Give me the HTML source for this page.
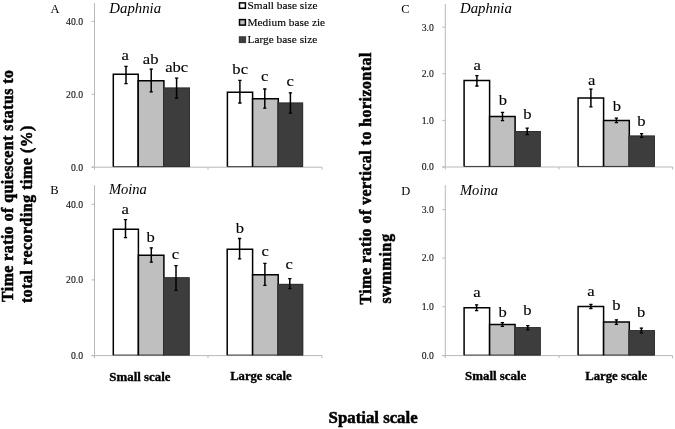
<!DOCTYPE html>
<html><head><meta charset="utf-8"><title>Figure</title>
<style>
html,body{margin:0;padding:0;background:#fff;}
body{width:675px;height:429px;overflow:hidden;}
svg{display:block;will-change:transform;font-family:"Liberation Serif",serif;}
</style></head><body>
<svg width="675" height="429" viewBox="0 0 675 429">
<rect width="675" height="429" fill="#fff"/>
<path d="M94.5 3V169.7" stroke="#b9b9b9" stroke-width="1" fill="none"/>
<path d="M91.5 167.2H322" stroke="#b9b9b9" stroke-width="1" fill="none"/>
<path d="M91.5 21.4H94.5" stroke="#b9b9b9" stroke-width="1"/>
<text x="83.0" y="24.7" font-size="9.7" text-anchor="end" fill="#111" stroke="#111" stroke-width="0.12">40.0</text>
<path d="M91.5 94.3H94.5" stroke="#b9b9b9" stroke-width="1"/>
<text x="83.0" y="97.6" font-size="9.7" text-anchor="end" fill="#111" stroke="#111" stroke-width="0.12">20.0</text>
<path d="M91.5 167.2H94.5" stroke="#b9b9b9" stroke-width="1"/>
<text x="83.0" y="170.5" font-size="9.7" text-anchor="end" fill="#111" stroke="#111" stroke-width="0.12">0.0</text>
<path d="M208 167.2V169.7" stroke="#b9b9b9" stroke-width="1"/>
<path d="M322 167.2V169.7" stroke="#b9b9b9" stroke-width="1"/>
<rect x="113.30" y="74.30" width="24.90" height="92.60" fill="#fff"/><path d="M113.30 166.80V74.30H138.20V166.80" fill="none" stroke="#000" stroke-width="1.5"/><path d="M113.30 166.65H138.20" fill="none" stroke="#222" stroke-width="0.9"/>
<rect x="138.20" y="80.70" width="25.70" height="86.20" fill="#bfbfbf"/><path d="M138.20 166.80V80.70H163.90V166.80" fill="none" stroke="#000" stroke-width="1.5"/><path d="M138.20 166.65H163.90" fill="none" stroke="#222" stroke-width="0.9"/>
<rect x="163.20" y="87.60" width="26.80" height="79.45" fill="#3d3d3d"/><rect x="163.60" y="88.00" width="26.00" height="78.65" fill="none" stroke="#2c2c2c" stroke-width="0.8"/>
<path d="M126.00 66.00V83.90" stroke="#000" stroke-width="1.5" fill="none"/><path d="M124.35 66.30H127.65M124.35 83.60H127.65" stroke="#000" stroke-width="1.3" fill="none"/>
<text transform="translate(125.30,59.50) scale(1.065,1)" font-size="15.6" text-anchor="middle" stroke="#000" stroke-width="0.12">a</text>
<path d="M151.20 68.80V92.20" stroke="#000" stroke-width="1.5" fill="none"/><path d="M149.55 69.10H152.85M149.55 91.90H152.85" stroke="#000" stroke-width="1.3" fill="none"/>
<text transform="translate(150.70,63.60) scale(1.065,1)" font-size="15.6" text-anchor="middle" stroke="#000" stroke-width="0.12">ab</text>
<path d="M176.60 77.80V98.30" stroke="#000" stroke-width="1.5" fill="none"/><path d="M174.95 78.10H178.25M174.95 98.00H178.25" stroke="#000" stroke-width="1.3" fill="none"/>
<text transform="translate(176.70,72.30) scale(1.065,1)" font-size="15.6" text-anchor="middle" stroke="#000" stroke-width="0.12">abc</text>
<rect x="227.40" y="92.20" width="25.20" height="74.70" fill="#fff"/><path d="M227.40 166.80V92.20H252.60V166.80" fill="none" stroke="#000" stroke-width="1.5"/><path d="M227.40 166.65H252.60" fill="none" stroke="#222" stroke-width="0.9"/>
<rect x="252.60" y="98.80" width="25.70" height="68.10" fill="#bfbfbf"/><path d="M252.60 166.80V98.80H278.30V166.80" fill="none" stroke="#000" stroke-width="1.5"/><path d="M252.60 166.65H278.30" fill="none" stroke="#222" stroke-width="0.9"/>
<rect x="277.60" y="102.60" width="25.50" height="64.45" fill="#3d3d3d"/><rect x="278.00" y="103.00" width="24.70" height="63.65" fill="none" stroke="#2c2c2c" stroke-width="0.8"/>
<path d="M239.90 80.00V103.30" stroke="#000" stroke-width="1.5" fill="none"/><path d="M238.25 80.30H241.55M238.25 103.00H241.55" stroke="#000" stroke-width="1.3" fill="none"/>
<text transform="translate(240.20,73.80) scale(1.065,1)" font-size="15.6" text-anchor="middle" stroke="#000" stroke-width="0.12">bc</text>
<path d="M264.80 88.70V108.50" stroke="#000" stroke-width="1.5" fill="none"/><path d="M263.15 89.00H266.45M263.15 108.20H266.45" stroke="#000" stroke-width="1.3" fill="none"/>
<text transform="translate(264.70,81.40) scale(1.065,1)" font-size="15.6" text-anchor="middle" stroke="#000" stroke-width="0.12">c</text>
<path d="M290.40 92.50V113.50" stroke="#000" stroke-width="1.5" fill="none"/><path d="M288.75 92.80H292.05M288.75 113.20H292.05" stroke="#000" stroke-width="1.3" fill="none"/>
<text transform="translate(290.30,86.00) scale(1.065,1)" font-size="15.6" text-anchor="middle" stroke="#000" stroke-width="0.12">c</text>
<path d="M94.5 185.2V358.1" stroke="#b9b9b9" stroke-width="1" fill="none"/>
<path d="M91.5 355.6H322" stroke="#b9b9b9" stroke-width="1" fill="none"/>
<path d="M91.5 204.3H94.5" stroke="#b9b9b9" stroke-width="1"/>
<text x="83.0" y="207.60000000000002" font-size="9.7" text-anchor="end" fill="#111" stroke="#111" stroke-width="0.12">40.0</text>
<path d="M91.5 279.9H94.5" stroke="#b9b9b9" stroke-width="1"/>
<text x="83.0" y="283.2" font-size="9.7" text-anchor="end" fill="#111" stroke="#111" stroke-width="0.12">20.0</text>
<path d="M91.5 355.6H94.5" stroke="#b9b9b9" stroke-width="1"/>
<text x="83.0" y="358.90000000000003" font-size="9.7" text-anchor="end" fill="#111" stroke="#111" stroke-width="0.12">0.0</text>
<path d="M208 355.6V358.1" stroke="#b9b9b9" stroke-width="1"/>
<path d="M322 355.6V358.1" stroke="#b9b9b9" stroke-width="1"/>
<rect x="113.30" y="229.20" width="25.10" height="126.10" fill="#fff"/><path d="M113.30 355.20V229.20H138.40V355.20" fill="none" stroke="#000" stroke-width="1.5"/><path d="M113.30 355.05H138.40" fill="none" stroke="#222" stroke-width="0.9"/>
<rect x="138.40" y="255.20" width="25.50" height="100.10" fill="#bfbfbf"/><path d="M138.40 355.20V255.20H163.90V355.20" fill="none" stroke="#000" stroke-width="1.5"/><path d="M138.40 355.05H163.90" fill="none" stroke="#222" stroke-width="0.9"/>
<rect x="163.20" y="277.30" width="26.40" height="78.15" fill="#3d3d3d"/><rect x="163.60" y="277.70" width="25.60" height="77.35" fill="none" stroke="#2c2c2c" stroke-width="0.8"/>
<path d="M125.50 219.40V238.00" stroke="#000" stroke-width="1.5" fill="none"/><path d="M123.85 219.70H127.15M123.85 237.70H127.15" stroke="#000" stroke-width="1.3" fill="none"/>
<text transform="translate(125.30,213.80) scale(1.065,1)" font-size="15.6" text-anchor="middle" stroke="#000" stroke-width="0.12">a</text>
<path d="M151.30 247.60V262.40" stroke="#000" stroke-width="1.5" fill="none"/><path d="M149.65 247.90H152.95M149.65 262.10H152.95" stroke="#000" stroke-width="1.3" fill="none"/>
<text transform="translate(150.70,242.40) scale(1.065,1)" font-size="15.6" text-anchor="middle" stroke="#000" stroke-width="0.12">b</text>
<path d="M176.00 265.30V290.70" stroke="#000" stroke-width="1.5" fill="none"/><path d="M174.35 265.60H177.65M174.35 290.40H177.65" stroke="#000" stroke-width="1.3" fill="none"/>
<text transform="translate(175.40,258.80) scale(1.065,1)" font-size="15.6" text-anchor="middle" stroke="#000" stroke-width="0.12">c</text>
<rect x="227.20" y="249.20" width="25.40" height="106.10" fill="#fff"/><path d="M227.20 355.20V249.20H252.60V355.20" fill="none" stroke="#000" stroke-width="1.5"/><path d="M227.20 355.05H252.60" fill="none" stroke="#222" stroke-width="0.9"/>
<rect x="252.60" y="274.70" width="25.60" height="80.60" fill="#bfbfbf"/><path d="M252.60 355.20V274.70H278.20V355.20" fill="none" stroke="#000" stroke-width="1.5"/><path d="M252.60 355.05H278.20" fill="none" stroke="#222" stroke-width="0.9"/>
<rect x="277.50" y="283.90" width="25.70" height="71.55" fill="#3d3d3d"/><rect x="277.90" y="284.30" width="24.90" height="70.75" fill="none" stroke="#2c2c2c" stroke-width="0.8"/>
<path d="M239.60 238.20V259.20" stroke="#000" stroke-width="1.5" fill="none"/><path d="M237.95 238.50H241.25M237.95 258.90H241.25" stroke="#000" stroke-width="1.3" fill="none"/>
<text transform="translate(240.00,233.00) scale(1.065,1)" font-size="15.6" text-anchor="middle" stroke="#000" stroke-width="0.12">b</text>
<path d="M264.90 263.10V285.70" stroke="#000" stroke-width="1.5" fill="none"/><path d="M263.25 263.40H266.55M263.25 285.40H266.55" stroke="#000" stroke-width="1.3" fill="none"/>
<text transform="translate(265.30,256.40) scale(1.065,1)" font-size="15.6" text-anchor="middle" stroke="#000" stroke-width="0.12">c</text>
<path d="M289.80 278.30V288.90" stroke="#000" stroke-width="1.5" fill="none"/><path d="M288.15 278.60H291.45M288.15 288.60H291.45" stroke="#000" stroke-width="1.3" fill="none"/>
<text transform="translate(289.10,269.00) scale(1.065,1)" font-size="15.6" text-anchor="middle" stroke="#000" stroke-width="0.12">c</text>
<path d="M445.3 3.8V169.5" stroke="#b9b9b9" stroke-width="1" fill="none"/>
<path d="M442.3 167H672.5" stroke="#b9b9b9" stroke-width="1" fill="none"/>
<path d="M442.3 27.2H445.3" stroke="#b9b9b9" stroke-width="1"/>
<text x="433.8" y="30.5" font-size="9.7" text-anchor="end" fill="#111" stroke="#111" stroke-width="0.12">3.0</text>
<path d="M442.3 73.8H445.3" stroke="#b9b9b9" stroke-width="1"/>
<text x="433.8" y="77.1" font-size="9.7" text-anchor="end" fill="#111" stroke="#111" stroke-width="0.12">2.0</text>
<path d="M442.3 120.4H445.3" stroke="#b9b9b9" stroke-width="1"/>
<text x="433.8" y="123.7" font-size="9.7" text-anchor="end" fill="#111" stroke="#111" stroke-width="0.12">1.0</text>
<path d="M442.3 167H445.3" stroke="#b9b9b9" stroke-width="1"/>
<text x="433.8" y="170.3" font-size="9.7" text-anchor="end" fill="#111" stroke="#111" stroke-width="0.12">0.0</text>
<path d="M559 167V169.5" stroke="#b9b9b9" stroke-width="1"/>
<path d="M672.5 167V169.5" stroke="#b9b9b9" stroke-width="1"/>
<rect x="464.10" y="80.60" width="25.50" height="86.10" fill="#fff"/><path d="M464.10 166.60V80.60H489.60V166.60" fill="none" stroke="#000" stroke-width="1.5"/><path d="M464.10 166.45H489.60" fill="none" stroke="#222" stroke-width="0.9"/>
<rect x="489.60" y="116.40" width="25.50" height="50.30" fill="#bfbfbf"/><path d="M489.60 166.60V116.40H515.10V166.60" fill="none" stroke="#000" stroke-width="1.5"/><path d="M489.60 166.45H515.10" fill="none" stroke="#222" stroke-width="0.9"/>
<rect x="514.50" y="131.00" width="26.20" height="35.85" fill="#3d3d3d"/><rect x="514.90" y="131.40" width="25.40" height="35.05" fill="none" stroke="#2c2c2c" stroke-width="0.8"/>
<path d="M476.90 75.40V86.30" stroke="#000" stroke-width="1.5" fill="none"/><path d="M475.25 75.70H478.55M475.25 86.00H478.55" stroke="#000" stroke-width="1.3" fill="none"/>
<text transform="translate(477.30,70.20) scale(1.065,1)" font-size="15.6" text-anchor="middle" stroke="#000" stroke-width="0.12">a</text>
<path d="M502.50 112.00V120.90" stroke="#000" stroke-width="1.5" fill="none"/><path d="M500.85 112.30H504.15M500.85 120.60H504.15" stroke="#000" stroke-width="1.3" fill="none"/>
<text transform="translate(503.00,104.50) scale(1.065,1)" font-size="15.6" text-anchor="middle" stroke="#000" stroke-width="0.12">b</text>
<path d="M527.20 127.90V135.00" stroke="#000" stroke-width="1.5" fill="none"/><path d="M525.55 128.20H528.85M525.55 134.70H528.85" stroke="#000" stroke-width="1.3" fill="none"/>
<text transform="translate(527.50,118.50) scale(1.065,1)" font-size="15.6" text-anchor="middle" stroke="#000" stroke-width="0.12">b</text>
<rect x="578.10" y="97.90" width="25.50" height="68.80" fill="#fff"/><path d="M578.10 166.60V97.90H603.60V166.60" fill="none" stroke="#000" stroke-width="1.5"/><path d="M578.10 166.45H603.60" fill="none" stroke="#222" stroke-width="0.9"/>
<rect x="603.60" y="120.40" width="25.70" height="46.30" fill="#bfbfbf"/><path d="M603.60 166.60V120.40H629.30V166.60" fill="none" stroke="#000" stroke-width="1.5"/><path d="M603.60 166.45H629.30" fill="none" stroke="#222" stroke-width="0.9"/>
<rect x="628.60" y="135.60" width="26.30" height="31.25" fill="#3d3d3d"/><rect x="629.00" y="136.00" width="25.50" height="30.45" fill="none" stroke="#2c2c2c" stroke-width="0.8"/>
<path d="M590.90 88.80V107.10" stroke="#000" stroke-width="1.5" fill="none"/><path d="M589.25 89.10H592.55M589.25 106.80H592.55" stroke="#000" stroke-width="1.3" fill="none"/>
<text transform="translate(591.80,84.90) scale(1.065,1)" font-size="15.6" text-anchor="middle" stroke="#000" stroke-width="0.12">a</text>
<path d="M616.40 117.90V123.00" stroke="#000" stroke-width="1.5" fill="none"/><path d="M614.75 118.20H618.05M614.75 122.70H618.05" stroke="#000" stroke-width="1.3" fill="none"/>
<text transform="translate(616.80,111.00) scale(1.065,1)" font-size="15.6" text-anchor="middle" stroke="#000" stroke-width="0.12">b</text>
<path d="M641.60 133.30V137.60" stroke="#000" stroke-width="1.5" fill="none"/><path d="M639.95 133.60H643.25M639.95 137.30H643.25" stroke="#000" stroke-width="1.3" fill="none"/>
<text transform="translate(641.30,125.50) scale(1.065,1)" font-size="15.6" text-anchor="middle" stroke="#000" stroke-width="0.12">b</text>
<path d="M445.3 185.1V358.1" stroke="#b9b9b9" stroke-width="1" fill="none"/>
<path d="M442.3 355.6H672.5" stroke="#b9b9b9" stroke-width="1" fill="none"/>
<path d="M442.3 209.7H445.3" stroke="#b9b9b9" stroke-width="1"/>
<text x="433.8" y="213.0" font-size="9.7" text-anchor="end" fill="#111" stroke="#111" stroke-width="0.12">3.0</text>
<path d="M442.3 258.1H445.3" stroke="#b9b9b9" stroke-width="1"/>
<text x="433.8" y="261.40000000000003" font-size="9.7" text-anchor="end" fill="#111" stroke="#111" stroke-width="0.12">2.0</text>
<path d="M442.3 306.8H445.3" stroke="#b9b9b9" stroke-width="1"/>
<text x="433.8" y="310.1" font-size="9.7" text-anchor="end" fill="#111" stroke="#111" stroke-width="0.12">1.0</text>
<path d="M442.3 355.6H445.3" stroke="#b9b9b9" stroke-width="1"/>
<text x="433.8" y="358.90000000000003" font-size="9.7" text-anchor="end" fill="#111" stroke="#111" stroke-width="0.12">0.0</text>
<path d="M559 355.6V358.1" stroke="#b9b9b9" stroke-width="1"/>
<path d="M672.5 355.6V358.1" stroke="#b9b9b9" stroke-width="1"/>
<rect x="464.10" y="307.80" width="25.50" height="47.50" fill="#fff"/><path d="M464.10 355.20V307.80H489.60V355.20" fill="none" stroke="#000" stroke-width="1.5"/><path d="M464.10 355.05H489.60" fill="none" stroke="#222" stroke-width="0.9"/>
<rect x="489.60" y="324.50" width="25.50" height="30.80" fill="#bfbfbf"/><path d="M489.60 355.20V324.50H515.10V355.20" fill="none" stroke="#000" stroke-width="1.5"/><path d="M489.60 355.05H515.10" fill="none" stroke="#222" stroke-width="0.9"/>
<rect x="514.50" y="327.20" width="26.20" height="28.25" fill="#3d3d3d"/><rect x="514.90" y="327.60" width="25.40" height="27.45" fill="none" stroke="#2c2c2c" stroke-width="0.8"/>
<path d="M476.60 304.60V310.90" stroke="#000" stroke-width="1.5" fill="none"/><path d="M474.95 304.90H478.25M474.95 310.60H478.25" stroke="#000" stroke-width="1.3" fill="none"/>
<text transform="translate(477.00,296.70) scale(1.065,1)" font-size="15.6" text-anchor="middle" stroke="#000" stroke-width="0.12">a</text>
<path d="M502.40 322.40V326.70" stroke="#000" stroke-width="1.5" fill="none"/><path d="M500.75 322.70H504.05M500.75 326.40H504.05" stroke="#000" stroke-width="1.3" fill="none"/>
<text transform="translate(502.60,316.90) scale(1.065,1)" font-size="15.6" text-anchor="middle" stroke="#000" stroke-width="0.12">b</text>
<path d="M527.80 325.40V330.10" stroke="#000" stroke-width="1.5" fill="none"/><path d="M526.15 325.70H529.45M526.15 329.80H529.45" stroke="#000" stroke-width="1.3" fill="none"/>
<text transform="translate(527.50,314.70) scale(1.065,1)" font-size="15.6" text-anchor="middle" stroke="#000" stroke-width="0.12">b</text>
<rect x="578.10" y="306.40" width="25.50" height="48.90" fill="#fff"/><path d="M578.10 355.20V306.40H603.60V355.20" fill="none" stroke="#000" stroke-width="1.5"/><path d="M578.10 355.05H603.60" fill="none" stroke="#222" stroke-width="0.9"/>
<rect x="603.60" y="322.10" width="25.70" height="33.20" fill="#bfbfbf"/><path d="M603.60 355.20V322.10H629.30V355.20" fill="none" stroke="#000" stroke-width="1.5"/><path d="M603.60 355.05H629.30" fill="none" stroke="#222" stroke-width="0.9"/>
<rect x="628.60" y="330.20" width="26.30" height="25.25" fill="#3d3d3d"/><rect x="629.00" y="330.60" width="25.50" height="24.45" fill="none" stroke="#2c2c2c" stroke-width="0.8"/>
<path d="M590.90 304.00V308.80" stroke="#000" stroke-width="1.5" fill="none"/><path d="M589.25 304.30H592.55M589.25 308.50H592.55" stroke="#000" stroke-width="1.3" fill="none"/>
<text transform="translate(591.00,295.70) scale(1.065,1)" font-size="15.6" text-anchor="middle" stroke="#000" stroke-width="0.12">a</text>
<path d="M616.40 319.50V324.70" stroke="#000" stroke-width="1.5" fill="none"/><path d="M614.75 319.80H618.05M614.75 324.40H618.05" stroke="#000" stroke-width="1.3" fill="none"/>
<text transform="translate(616.50,310.20) scale(1.065,1)" font-size="15.6" text-anchor="middle" stroke="#000" stroke-width="0.12">b</text>
<path d="M641.40 327.80V333.20" stroke="#000" stroke-width="1.5" fill="none"/><path d="M639.75 328.10H643.05M639.75 332.90H643.05" stroke="#000" stroke-width="1.3" fill="none"/>
<text transform="translate(641.10,317.30) scale(1.065,1)" font-size="15.6" text-anchor="middle" stroke="#000" stroke-width="0.12">b</text>

<g font-size="12.5">
<text x="50.5" y="12.8">A</text><text x="50.3" y="194.2">B</text>
<text x="401.3" y="13">C</text><text x="401.2" y="194.8">D</text>
</g>
<g font-size="14.5" font-style="italic">
<text x="109.3" y="12.6" textLength="51.8" lengthAdjust="spacingAndGlyphs">Daphnia</text>
<text x="108.9" y="193.9" textLength="38" lengthAdjust="spacingAndGlyphs">Moina</text>
<text x="460" y="12.8" textLength="51.8" lengthAdjust="spacingAndGlyphs">Daphnia</text>
<text x="460" y="195" textLength="38" lengthAdjust="spacingAndGlyphs">Moina</text>
</g>
<g font-size="11.3" stroke="#000" stroke-width="0.15">
<rect x="239.5" y="2.9" width="5.9" height="5.4" fill="#fff" stroke="#000" stroke-width="1.5"/>
<rect x="239.5" y="19.6" width="5.9" height="5.5" fill="#bfbfbf" stroke="#000" stroke-width="1.5"/>
<rect x="238.8" y="36.2" width="7.3" height="6.9" fill="#3d3d3d" stroke="none"/>
<text x="247.5" y="9.4" textLength="70" lengthAdjust="spacing">Small base size</text>
<text x="247.5" y="26.1" textLength="77.6" lengthAdjust="spacing">Medium base zie</text>
<text x="247.5" y="43.2" textLength="69.8" lengthAdjust="spacing">Large base size</text>
</g>
<g font-size="13" font-weight="bold" stroke="#000" stroke-width="0.35">
<text x="109.3" y="380.6" textLength="61.2" lengthAdjust="spacingAndGlyphs">Small scale</text>
<text x="230.2" y="380" textLength="61.4" lengthAdjust="spacingAndGlyphs">Large scale</text>
<text x="465" y="380.2" textLength="61.3" lengthAdjust="spacingAndGlyphs">Small scale</text>
<text x="585.2" y="380.2" textLength="62" lengthAdjust="spacingAndGlyphs">Large scale</text>
</g>
<g font-size="16.8" font-weight="bold" stroke="#000" stroke-width="0.5">
<text x="328.6" y="423.4" textLength="89" lengthAdjust="spacing">Spatial scale</text>
</g>
<g font-size="15.8" font-weight="bold" stroke="#000" stroke-width="0.55">
<text transform="translate(12.6,302) rotate(-90)" textLength="232" lengthAdjust="spacing">Time ratio of quiescent status to</text>
<text transform="translate(32.4,303) rotate(-90)" textLength="177.4" lengthAdjust="spacing">total recording time (%)</text>
<text transform="translate(370.7,304.4) rotate(-90)" textLength="251.7" lengthAdjust="spacing">Time ratio of vertical to horizontal</text>
<text transform="translate(390.5,303.6) rotate(-90)" textLength="69.7" lengthAdjust="spacing">swmming</text>
</g>

</svg>
</body></html>
